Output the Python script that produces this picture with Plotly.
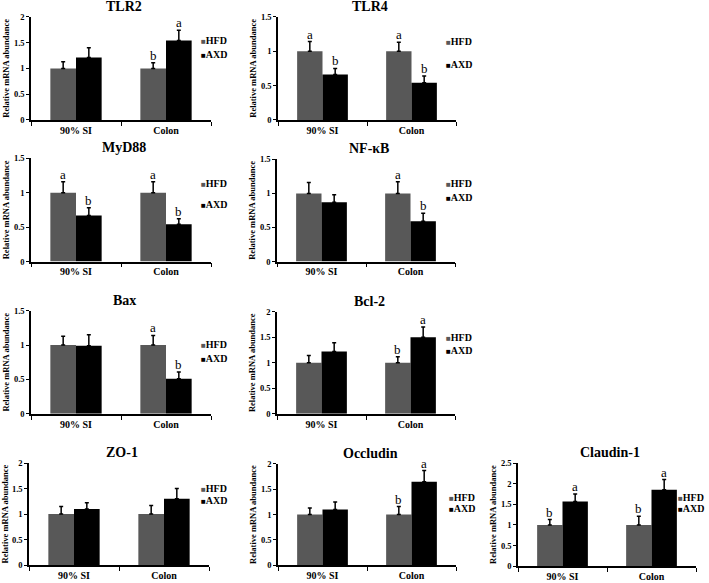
import plotly.graph_objects as go

categories = ["90% SI", "Colon"]
series_names = ["HFD", "AXD"]
series_colors = ["#585858", "#000000"]

panel_titles = ["TLR2", "TLR4", "MyD88", "NF-κB", "Bax", "Bcl-2", "ZO-1", "Occludin", "Claudin-1"]

tlr2_hfd = [1.0, 1.0];      tlr2_hfd_err = [0.13, 0.11];  tlr2_axd = [1.21, 1.54];  tlr2_axd_err = [0.19, 0.20]
tlr4_hfd = [1.0, 1.0];      tlr4_hfd_err = [0.14, 0.13];  tlr4_axd = [0.66, 0.54];  tlr4_axd_err = [0.09, 0.10]
myd88_hfd = [1.0, 1.0];     myd88_hfd_err = [0.16, 0.16]; myd88_axd = [0.67, 0.54]; myd88_axd_err = [0.11, 0.08]
nfkb_hfd = [1.0, 1.0];      nfkb_hfd_err = [0.16, 0.17];  nfkb_axd = [0.87, 0.59];  nfkb_axd_err = [0.11, 0.12]
bax_hfd = [1.0, 1.0];       bax_hfd_err = [0.13, 0.14];   bax_axd = [0.99, 0.51];   bax_axd_err = [0.16, 0.10]
bcl2_hfd = [1.0, 1.0];      bcl2_hfd_err = [0.14, 0.12];  bcl2_axd = [1.22, 1.50];  bcl2_axd_err = [0.17, 0.20]
zo1_hfd = [1.0, 1.0];       zo1_hfd_err = [0.15, 0.17];   zo1_axd = [1.10, 1.30];   zo1_axd_err = [0.12, 0.20]
occludin_hfd = [1.0, 1.0];  occludin_hfd_err = [0.13, 0.16]; occludin_axd = [1.10, 1.65]; occludin_axd_err = [0.15, 0.22]
claudin1_hfd = [1.0, 1.0];  claudin1_hfd_err = [0.13, 0.21]; claudin1_axd = [1.57, 1.85]; claudin1_axd_err = [0.18, 0.25]

tlr2_letters_hfd = ["", "b"];     tlr2_letters_axd = ["", "a"]
tlr4_letters_hfd = ["a", "a"];    tlr4_letters_axd = ["b", "b"]
myd88_letters_hfd = ["a", "a"];   myd88_letters_axd = ["b", "b"]
nfkb_letters_hfd = ["", "a"];     nfkb_letters_axd = ["", "b"]
bax_letters_hfd = ["", "a"];      bax_letters_axd = ["", "b"]
bcl2_letters_hfd = ["", "b"];     bcl2_letters_axd = ["", "a"]
zo1_letters_hfd = ["", ""];       zo1_letters_axd = ["", ""]
occludin_letters_hfd = ["", "b"]; occludin_letters_axd = ["", "a"]
claudin1_letters_hfd = ["b", "b"]; claudin1_letters_axd = ["a", "a"]

y_max = [2, 1.5, 1.5, 1.5, 1.5, 2, 2, 2, 2.5]

hfd_all = [tlr2_hfd, tlr4_hfd, myd88_hfd, nfkb_hfd, bax_hfd, bcl2_hfd, zo1_hfd, occludin_hfd, claudin1_hfd]
hfd_err_all = [tlr2_hfd_err, tlr4_hfd_err, myd88_hfd_err, nfkb_hfd_err, bax_hfd_err, bcl2_hfd_err, zo1_hfd_err, occludin_hfd_err, claudin1_hfd_err]
axd_all = [tlr2_axd, tlr4_axd, myd88_axd, nfkb_axd, bax_axd, bcl2_axd, zo1_axd, occludin_axd, claudin1_axd]
axd_err_all = [tlr2_axd_err, tlr4_axd_err, myd88_axd_err, nfkb_axd_err, bax_axd_err, bcl2_axd_err, zo1_axd_err, occludin_axd_err, claudin1_axd_err]
let_hfd_all = [tlr2_letters_hfd, tlr4_letters_hfd, myd88_letters_hfd, nfkb_letters_hfd, bax_letters_hfd, bcl2_letters_hfd, zo1_letters_hfd, occludin_letters_hfd, claudin1_letters_hfd]
let_axd_all = [tlr2_letters_axd, tlr4_letters_axd, myd88_letters_axd, nfkb_letters_axd, bax_letters_axd, bcl2_letters_axd, zo1_letters_axd, occludin_letters_axd, claudin1_letters_axd]

# ---- layout (pixels): plot-area boxes x0, x1, ytop, ybottom
W, H = 709, 583
boxes = [
    (31, 211, 12, 117), (278, 456, 12, 117),
    (31, 211, 156, 261), (277, 455, 157, 261),
    (31, 211, 311, 416), (277, 455, 312, 416),
    (29, 209, 466, 570), (278, 456, 467, 570), (518, 696, 466, 571),
]
# legend: x of marker, y of HFD row, y of AXD row (pixels)
legend_pos = [
    (199, 36, 50), (444, 37, 61),
    (199, 182, 203), (444, 182, 196),
    (199, 345, 360), (444, 338, 352),
    (199, 492, 504), (447, 501, 512), (676, 501, 512),
]

SERIF = "Liberation Serif"
BARGAP = 0.43
half = (1 - BARGAP) / 4.0

fig = go.Figure()
annotations = []

def px_x(v):
    return v / W

def px_y(v):
    return 1 - v / H

for i in range(9):
    xa = "x" if i == 0 else f"x{i+1}"
    ya = "y" if i == 0 else f"y{i+1}"
    series = [(hfd_all[i], hfd_err_all[i], let_hfd_all[i]), (axd_all[i], axd_err_all[i], let_axd_all[i])]
    for s, (vals, errs, lets) in enumerate(series):
        fig.add_trace(go.Bar(
            x=categories, y=vals, name=series_names[s],
            marker=dict(color=series_colors[s], line=dict(width=0)),
            error_y=dict(type="data", array=errs, arrayminus=[0] * len(errs), symmetric=False,
                         color="black", thickness=1.5, width=2),
            xaxis=xa, yaxis=ya, showlegend=False,
        ))
        offset = -half if s == 0 else half
        for c, lt in enumerate(lets):
            if lt:
                annotations.append(dict(
                    x=c + offset, y=vals[c] + errs[c], xref=xa, yref=ya,
                    text=lt, showarrow=False, yanchor="bottom", yshift=-2,
                    font=dict(family=SERIF, size=13, color="#000000"),
                ))
    x0, x1, yt, yb = boxes[i]
    axkey = "xaxis" if i == 0 else f"xaxis{i+1}"
    aykey = "yaxis" if i == 0 else f"yaxis{i+1}"
    fig.layout[axkey] = dict(
        domain=[px_x(x0), px_x(x1)], anchor=ya, type="category",
        showline=True, linecolor="black", linewidth=1.5,
        ticks="outside", tickson="boundaries", ticklen=4, tickcolor="black",
        tickfont=dict(family=SERIF, size=10, color="black", weight="bold"),
        showgrid=False, zeroline=False, fixedrange=True,
    )
    fig.layout[aykey] = dict(
        domain=[px_y(yb), px_y(yt)], anchor=xa, range=[0, y_max[i]], dtick=0.5,
        showline=True, linecolor="black", linewidth=1.5,
        ticks="outside", ticklen=3, tickcolor="black",
        tickfont=dict(family=SERIF, size=8.5, color="black", weight="bold"),
        showgrid=False, zeroline=False,
        title=dict(text="Relative mRNA abundance", standoff=3,
                   font=dict(family=SERIF, size=8.5, color="black", weight="bold")),
    )
    # panel title
    annotations.append(dict(
        x=px_x((x0 + x1) / 2 + 3), y=px_y(yt - 1), xref="paper", yref="paper",
        text=panel_titles[i], showarrow=False, yanchor="bottom", xanchor="center",
        font=dict(family=SERIF, size=14, color="black", weight="bold"),
    ))
    # legend entries
    lx, ly1, ly2 = legend_pos[i]
    for s, ly in enumerate([ly1, ly2]):
        annotations.append(dict(
            x=px_x(lx), y=px_y(ly), xref="paper", yref="paper", xanchor="left", yanchor="middle",
            text=f"<span style='color:{series_colors[s]};font-size:8px'>■</span>{series_names[s]}",
            showarrow=False,
            font=dict(family=SERIF, size=10, color="black", weight="bold"),
        ))

fig.update_layout(
    width=W, height=H, margin=dict(l=0, r=0, t=0, b=0),
    paper_bgcolor="white", plot_bgcolor="white",
    barmode="group", bargap=BARGAP, bargroupgap=0,
    annotations=annotations, showlegend=False,
)

fig.write_html("out.html", config={"displayModeBar": False},
               post_script="document.body.style.margin='0';")
